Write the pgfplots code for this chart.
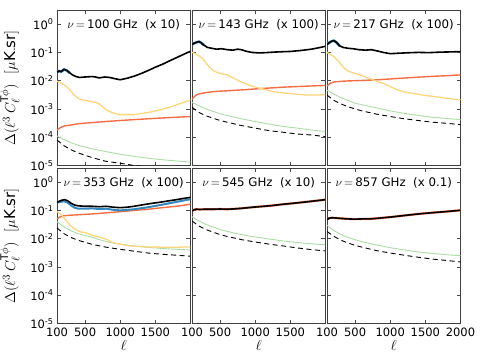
\documentclass[border=0pt]{standalone}
\usepackage{fontspec}
\setmainfont{DejaVu Sans}
\usepackage{pgfplots}
\pgfplotsset{compat=1.18}

\definecolor{cgold}{HTML}{FDD57A}
\definecolor{cred}{HTML}{F46D43}
\definecolor{cgreen}{HTML}{ABDDA4}
\definecolor{cblue}{HTML}{3288BD}

\pgfplotsset{
  mypanel/.style={
    scale only axis, width=133.5pt, height=155.5pt,
    xmin=100, xmax=2000, ymin=1e-5, ymax=3.16,
    xtick={100,500,1000,1500,2000},
    ytick={1e-5,1e-4,1e-3,1e-2,1e-1,1},
    xtick pos=both, ytick pos=both, tick align=inside,
    major tick length=4pt, minor tick length=2pt,
    axis line style={black!75, line width=0.9pt},
    every tick/.style={black!70, line width=0.5pt},
    xticklabels=\empty, yticklabels=\empty,
    tick label style={font=\fontsize{11.5}{13}\selectfont},
    xticklabel style={yshift=-1pt},
  },
  myleft/.style={
    yticklabel={10\textsuperscript{\pgfmathparse{int(round(\tick))}\pgfmathresult}},
    ylabel={$\Delta(\ell^3\,C_\ell^{\mathrm{T}\phi})$\ \ $[\mu\mathrm{K.sr}]$},
    ylabel style={font=\fontsize{15}{17}\selectfont, yshift=4pt},
  },
  mybot/.style={
    xlabel={$\ell$},
    xlabel style={font=\fontsize{15}{17}\selectfont, yshift=3pt},
  },
}
\tikzset{
  obs/.style={black, line width=1.6pt},
  err/.style={cblue, line width=2.6pt},
  fg/.style={cgold, line width=1.3pt},
  sz/.style={cred, line width=1.4pt},
  noise/.style={cgreen, line width=0.9pt},
  theo/.style={black, line width=0.9pt, dash pattern=on 5pt off 3.5pt},
  lab/.style={font=\fontsize{11.8}{14}\selectfont},
}

\begin{document}
\begin{tikzpicture}
\useasboundingbox (0,0) rectangle (480pt,360pt);

% ---- 100 GHz
\begin{axis}[ymode=log, log basis y=10, mypanel, myleft, anchor=south west, at={(57pt,194.5pt)}]
\addplot[err] coordinates {(100,0.020)(130,0.022)(160,0.021)(200,0.025)(240,0.023)(280,0.019)};
\addplot[sz] coordinates {(100,0.00018)(150,0.00022)(200,0.00025)(300,0.00027)(400,0.00030)(600,0.00033)(800,0.00036)(1000,0.00039)(1200,0.00042)(1400,0.00045)(1600,0.00048)(1800,0.00051)(2000,0.00054)};
\addplot[fg] coordinates {(100,0.0095)(150,0.0085)(200,0.0072)(250,0.0058)(300,0.0042)(350,0.0030)(400,0.0024)(450,0.0021)(500,0.0020)(550,0.0019)(600,0.0018)(650,0.0017)(700,0.0015)(750,0.0012)(800,0.00095)(850,0.00082)(900,0.00072)(950,0.00067)(1000,0.00063)(1200,0.00063)(1400,0.00075)(1500,0.00085)(1600,0.00098)(1700,0.00115)(1800,0.0014)(1900,0.0017)(2000,0.0021)};
\addplot[noise] coordinates {(100,0.000110)(200,0.000082)(300,0.000064)(400,0.000052)(500,0.000045)(600,0.000039)(800,0.000031)(1000,0.000025)(1200,0.000021)(1400,0.000018)(1600,0.000016)(1800,0.0000145)(2000,0.0000132)};
\addplot[theo] coordinates {(100,0.00008)(200,0.00005)(300,0.000036)(400,0.000028)(500,0.000023)(600,0.000019)(800,0.000014)(1000,0.000012)(1200,0.00001)(1500,0.0000082)(2000,0.0000062)};
\addplot[obs] coordinates {(100,0.020)(130,0.022)(160,0.021)(200,0.025)(240,0.023)(280,0.019)(320,0.016)(370,0.014)(420,0.013)(500,0.0135)(600,0.014)(650,0.0135)(700,0.0125)(780,0.0135)(850,0.013)(920,0.0118)(1000,0.0108)(1100,0.0122)(1200,0.0145)(1300,0.018)(1400,0.023)(1500,0.030)(1600,0.038)(1700,0.050)(1800,0.065)(1900,0.085)(2000,0.11)};
\node[lab] at (rel axis cs:0.5,0.905) {$\nu\,{=}\,$100 GHz\ \ (x 10)};
\end{axis}

% ---- 143 GHz
\begin{axis}[ymode=log, log basis y=10, mypanel, anchor=south west, at={(192pt,194.5pt)}]
\addplot[err] coordinates {(100,0.19)(130,0.21)(170,0.23)(200,0.24)(230,0.22)(270,0.18)};
\addplot[sz] coordinates {(100,0.0022)(150,0.0030)(200,0.0034)(300,0.0038)(400,0.0041)(600,0.0044)(800,0.0047)(1000,0.0051)(1200,0.0055)(1400,0.0059)(1600,0.0062)(1800,0.0065)(2000,0.0068)};
\addplot[fg] coordinates {(100,0.10)(150,0.09)(200,0.075)(260,0.058)(300,0.042)(350,0.030)(400,0.023)(450,0.020)(500,0.018)(600,0.016)(700,0.012)(780,0.0095)(850,0.0080)(950,0.0065)(1050,0.0055)(1150,0.0048)(1250,0.0041)(1400,0.0037)(1500,0.0035)(1650,0.0032)(1750,0.0031)(1850,0.0031)(2000,0.0032)};
\addplot[noise] coordinates {(100,0.0017)(200,0.0013)(300,0.0010)(400,0.00082)(500,0.00068)(600,0.00058)(800,0.00045)(1000,0.00036)(1200,0.00029)(1400,0.00024)(1600,0.00021)(1800,0.00018)(2000,0.00016)};
\addplot[theo] coordinates {(100,0.00115)(200,0.00075)(300,0.00057)(400,0.00047)(500,0.00039)(600,0.00034)(800,0.00026)(1000,0.00021)(1200,0.00017)(1400,0.00015)(1600,0.00013)(1800,0.00012)(2000,0.000105)};
\addplot[obs] coordinates {(100,0.19)(130,0.21)(170,0.23)(200,0.24)(230,0.22)(270,0.18)(320,0.15)(380,0.14)(450,0.13)(520,0.135)(600,0.125)(680,0.12)(750,0.13)(800,0.125)(870,0.11)(950,0.1)(1050,0.096)(1150,0.098)(1250,0.102)(1400,0.106)(1500,0.108)(1650,0.117)(1800,0.13)(1900,0.145)(2000,0.165)};
\node[lab] at (rel axis cs:0.5,0.905) {$\nu\,{=}\,$143 GHz\ \ (x 100)};
\end{axis}

% ---- 217 GHz
\begin{axis}[ymode=log, log basis y=10, mypanel, anchor=south west, at={(327pt,194.5pt)}]
\addplot[err] coordinates {(100,0.19)(130,0.22)(170,0.25)(200,0.26)(240,0.22)(280,0.17)};
\addplot[sz] coordinates {(100,0.0065)(150,0.0082)(200,0.0090)(300,0.0095)(400,0.0098)(600,0.0102)(800,0.0107)(1000,0.0115)(1200,0.0124)(1400,0.0133)(1600,0.0142)(1800,0.015)(2000,0.016)};
\addplot[fg] coordinates {(100,0.10)(150,0.085)(200,0.07)(260,0.05)(300,0.037)(350,0.027)(400,0.022)(500,0.018)(600,0.015)(700,0.0122)(800,0.0098)(900,0.0080)(1000,0.0062)(1100,0.0048)(1200,0.0040)(1300,0.0036)(1400,0.0033)(1500,0.003)(1600,0.0028)(1700,0.0026)(1850,0.0023)(2000,0.0021)};
\addplot[noise] coordinates {(100,0.0046)(200,0.0033)(300,0.0025)(400,0.0020)(500,0.0016)(600,0.0014)(800,0.0011)(1000,0.00085)(1200,0.0007)(1400,0.00059)(1600,0.00051)(1800,0.00046)(2000,0.00042)};
\addplot[theo] coordinates {(100,0.0031)(200,0.002)(300,0.0015)(400,0.0012)(500,0.001)(600,0.00085)(800,0.00066)(1000,0.00054)(1200,0.00045)(1400,0.00039)(1600,0.00034)(1800,0.00031)(2000,0.00028)};
\addplot[obs] coordinates {(100,0.19)(130,0.22)(170,0.25)(200,0.26)(240,0.22)(280,0.17)(330,0.15)(400,0.14)(470,0.135)(550,0.125)(650,0.12)(730,0.125)(800,0.115)(900,0.1)(1000,0.09)(1100,0.093)(1250,0.097)(1400,0.1)(1550,0.098)(1700,0.102)(1850,0.104)(2000,0.107)};
\node[lab] at (rel axis cs:0.5,0.905) {$\nu\,{=}\,$217 GHz\ \ (x 100)};
\end{axis}

% ---- 353 GHz
\begin{axis}[ymode=log, log basis y=10, mypanel, myleft, mybot, anchor=south west, at={(57pt,36.5pt)},
  xticklabels={100,500,1000,1500,}]
\addplot[sz] coordinates {(100,0.05)(150,0.06)(200,0.065)(300,0.068)(400,0.070)(600,0.075)(800,0.082)(1000,0.09)(1200,0.10)(1400,0.11)(1600,0.125)(1800,0.14)(2000,0.165)};
\addplot[noise] coordinates {(100,0.040)(200,0.026)(300,0.019)(400,0.015)(500,0.013)(600,0.0112)(800,0.0078)(1000,0.0063)(1200,0.0055)(1400,0.0049)(1600,0.0045)(1800,0.0042)(2000,0.0040)};
\addplot[fg] coordinates {(100,0.09)(150,0.075)(200,0.055)(250,0.038)(300,0.028)(350,0.022)(400,0.019)(450,0.017)(500,0.0165)(550,0.015)(600,0.013)(650,0.012)(700,0.0115)(750,0.0105)(800,0.0095)(850,0.0082)(900,0.0072)(1000,0.0064)(1100,0.0058)(1200,0.0054)(1400,0.0051)(1600,0.0050)(1800,0.0050)(2000,0.0051)};
\addplot[theo] coordinates {(100,0.024)(200,0.015)(300,0.011)(400,0.0088)(500,0.0074)(600,0.0063)(800,0.005)(1000,0.0042)(1200,0.0036)(1400,0.0031)(1600,0.0028)(1800,0.0026)(2000,0.0024)};
\addplot[err, line width=2pt] coordinates {(100,0.19)(150,0.2)(200,0.21)(250,0.19)(300,0.15)(350,0.125)(400,0.115)(500,0.115)(600,0.118)(700,0.112)(800,0.115)(900,0.105)(1000,0.10)(1200,0.11)(1400,0.13)(1600,0.16)(1800,0.2)(2000,0.25)};
\addplot[obs] coordinates {(100,0.19)(130,0.21)(170,0.23)(210,0.24)(250,0.22)(300,0.18)(350,0.155)(400,0.145)(500,0.14)(600,0.14)(700,0.135)(800,0.14)(900,0.13)(1000,0.125)(1100,0.13)(1200,0.14)(1300,0.155)(1400,0.17)(1500,0.185)(1600,0.2)(1700,0.22)(1800,0.24)(1900,0.265)(2000,0.29)};
\node[lab] at (rel axis cs:0.5,0.905) {$\nu\,{=}\,$353 GHz\ \ (x 100)};
\end{axis}

% ---- 545 GHz
\begin{axis}[ymode=log, log basis y=10, mypanel, mybot, anchor=south west, at={(192pt,36.5pt)},
  xticklabels={100,500,1000,1500,}]
\addplot[noise] coordinates {(100,0.06)(200,0.042)(300,0.032)(400,0.026)(500,0.021)(600,0.018)(800,0.014)(1000,0.0115)(1200,0.0097)(1400,0.0083)(1600,0.0073)(1800,0.0066)(2000,0.0061)};
\addplot[theo] coordinates {(100,0.042)(200,0.028)(300,0.021)(400,0.017)(500,0.014)(600,0.012)(800,0.0093)(1000,0.0076)(1200,0.0064)(1400,0.0055)(1600,0.0047)(1800,0.0041)(2000,0.0037)};
\addplot[sz, line width=2.2pt] coordinates {(100,0.095)(130,0.105)(160,0.11)(200,0.108)(300,0.11)(400,0.11)(500,0.112)(600,0.11)(700,0.113)(800,0.118)(900,0.125)(1000,0.132)(1200,0.145)(1400,0.165)(1600,0.185)(1800,0.21)(2000,0.24)};
\addplot[obs] coordinates {(100,0.095)(130,0.105)(160,0.11)(200,0.108)(300,0.11)(400,0.11)(500,0.112)(600,0.11)(700,0.113)(800,0.118)(900,0.125)(1000,0.132)(1200,0.145)(1400,0.165)(1600,0.185)(1800,0.21)(2000,0.24)};
\node[lab] at (rel axis cs:0.5,0.905) {$\nu\,{=}\,$545 GHz\ \ (x 10)};
\end{axis}

% ---- 857 GHz
\begin{axis}[ymode=log, log basis y=10, mypanel, mybot, anchor=south west, at={(327pt,36.5pt)},
  xticklabels={100,500,1000,1500,2000}]
\addplot[noise] coordinates {(100,0.03)(200,0.019)(300,0.014)(400,0.011)(500,0.0092)(600,0.0078)(800,0.006)(1000,0.0048)(1200,0.004)(1400,0.0034)(1600,0.003)(1800,0.0027)(2000,0.0025)};
\addplot[theo] coordinates {(100,0.018)(200,0.012)(300,0.0088)(400,0.007)(500,0.0058)(600,0.005)(800,0.0038)(1000,0.0031)(1200,0.0026)(1400,0.0022)(1600,0.0019)(1800,0.0017)(2000,0.0015)};
\addplot[sz, line width=2.2pt] coordinates {(100,0.047)(130,0.053)(170,0.055)(220,0.054)(300,0.052)(400,0.05)(500,0.049)(600,0.05)(700,0.05)(800,0.052)(900,0.055)(1000,0.058)(1200,0.066)(1400,0.075)(1600,0.083)(1800,0.091)(2000,0.101)};
\addplot[obs] coordinates {(100,0.047)(130,0.053)(170,0.055)(220,0.054)(300,0.052)(400,0.05)(500,0.049)(600,0.05)(700,0.05)(800,0.052)(900,0.055)(1000,0.058)(1200,0.066)(1400,0.075)(1600,0.083)(1800,0.091)(2000,0.101)};
\node[lab] at (rel axis cs:0.5,0.905) {$\nu\,{=}\,$857 GHz\ \ (x 0.1)};
\end{axis}
\end{tikzpicture}
\end{document}
